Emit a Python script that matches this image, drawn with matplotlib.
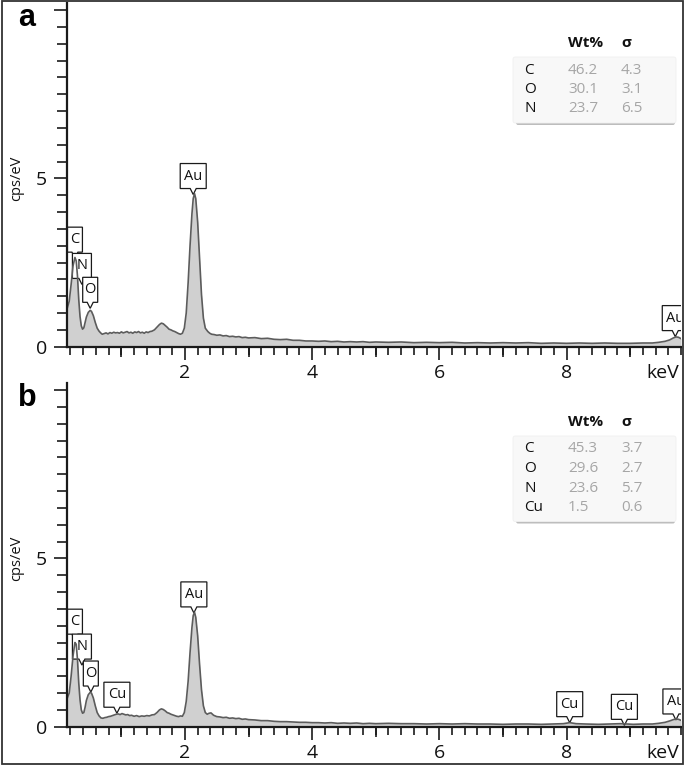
import matplotlib
matplotlib.use('Agg')
import matplotlib.pyplot as plt
from matplotlib.patches import Rectangle, PathPatch, FancyBboxPatch
from matplotlib.path import Path
from matplotlib import transforms
from matplotlib.ticker import MultipleLocator

plt.rcParams['font.family'] = ['Open Sans', 'DejaVu Sans']

# ---------------- data ----------------
energy_a = [0.15, 0.18, 0.21, 0.24, 0.27, 0.29, 0.31, 0.33, 0.35, 0.37, 0.39, 0.41, 0.43, 0.45,
            0.48, 0.51, 0.53, 0.56, 0.59, 0.62, 0.65, 0.68, 0.70, 0.73, 0.76, 0.79, 0.82, 0.85,
            0.88, 0.91, 0.94, 0.97, 1.00, 1.03, 1.06, 1.09, 1.12, 1.15, 1.18, 1.21, 1.24, 1.27,
            1.30, 1.33, 1.36, 1.39, 1.42, 1.45, 1.48, 1.52, 1.56, 1.60, 1.63, 1.66, 1.69, 1.72,
            1.75, 1.78, 1.81, 1.84, 1.87, 1.90, 1.93, 1.96, 1.99, 2.02, 2.05, 2.08, 2.11, 2.13,
            2.15, 2.17, 2.20, 2.23, 2.26, 2.29, 2.32, 2.36, 2.39, 2.42, 2.46, 2.50, 2.55, 2.60,
            2.65, 2.70, 2.75, 2.80, 2.85, 2.90, 2.95, 3.00, 3.10, 3.20, 3.30, 3.40, 3.50, 3.60,
            3.70, 3.80, 3.90, 4.00, 4.10, 4.20, 4.30, 4.40, 4.50, 4.60, 4.70, 4.80, 4.90, 5.00,
            5.20, 5.40, 5.60, 5.80, 6.00, 6.20, 6.40, 6.60, 6.80, 7.00, 7.20, 7.40, 7.60, 7.80,
            8.00, 8.20, 8.40, 8.60, 8.80, 9.00, 9.20, 9.35, 9.45, 9.55, 9.62, 9.68, 9.72, 9.76,
            9.80]
counts_a = [1.15, 1.35, 1.85, 2.40, 2.65, 2.55, 2.10, 1.40, 0.90, 0.62, 0.52, 0.56, 0.72, 0.88,
            1.02, 1.08, 1.05, 0.92, 0.72, 0.55, 0.46, 0.40, 0.37, 0.39, 0.41, 0.38, 0.42, 0.40,
            0.43, 0.41, 0.42, 0.40, 0.44, 0.41, 0.43, 0.45, 0.41, 0.43, 0.40, 0.44, 0.42, 0.45,
            0.41, 0.43, 0.40, 0.44, 0.42, 0.45, 0.46, 0.50, 0.58, 0.66, 0.70, 0.68, 0.63, 0.58,
            0.52, 0.50, 0.47, 0.45, 0.42, 0.39, 0.37, 0.40, 0.55, 1.00, 1.90, 3.00, 3.95, 4.40,
            4.55, 4.40, 3.70, 2.60, 1.55, 0.85, 0.55, 0.45, 0.40, 0.37, 0.36, 0.34, 0.35, 0.32,
            0.33, 0.30, 0.31, 0.29, 0.30, 0.27, 0.28, 0.26, 0.27, 0.24, 0.25, 0.22, 0.21, 0.22,
            0.19, 0.19, 0.17, 0.17, 0.16, 0.17, 0.15, 0.16, 0.14, 0.15, 0.14, 0.15, 0.13, 0.14,
            0.13, 0.14, 0.12, 0.13, 0.12, 0.13, 0.11, 0.12, 0.11, 0.12, 0.11, 0.12, 0.10, 0.11,
            0.10, 0.11, 0.10, 0.11, 0.10, 0.10, 0.11, 0.11, 0.13, 0.16, 0.20, 0.26, 0.29, 0.28,
            0.24]

energy_b = [0.15, 0.18, 0.21, 0.24, 0.27, 0.29, 0.31, 0.33, 0.35, 0.37, 0.39, 0.41, 0.43, 0.45,
            0.48, 0.51, 0.53, 0.56, 0.59, 0.62, 0.65, 0.68, 0.71, 0.74, 0.77, 0.80, 0.83, 0.86,
            0.89, 0.92, 0.95, 0.98, 1.01, 1.04, 1.07, 1.10, 1.13, 1.16, 1.20, 1.24, 1.28, 1.32,
            1.36, 1.40, 1.44, 1.48, 1.52, 1.56, 1.60, 1.63, 1.66, 1.69, 1.72, 1.75, 1.78, 1.81,
            1.84, 1.87, 1.90, 1.93, 1.96, 1.99, 2.02, 2.05, 2.08, 2.11, 2.13, 2.15, 2.17, 2.20,
            2.23, 2.26, 2.29, 2.32, 2.35, 2.38, 2.41, 2.45, 2.50, 2.55, 2.60, 2.65, 2.70, 2.75,
            2.80, 2.85, 2.90, 2.95, 3.00, 3.10, 3.20, 3.30, 3.40, 3.50, 3.60, 3.70, 3.80, 3.90,
            4.00, 4.10, 4.20, 4.30, 4.40, 4.50, 4.60, 4.70, 4.80, 4.90, 5.00, 5.20, 5.40, 5.60,
            5.80, 6.00, 6.20, 6.40, 6.60, 6.80, 7.00, 7.20, 7.40, 7.60, 7.80, 7.95, 8.05, 8.15,
            8.30, 8.50, 8.70, 8.85, 8.95, 9.05, 9.20, 9.35, 9.45, 9.55, 9.62, 9.68, 9.72, 9.76,
            9.80]
counts_b = [0.85, 1.00, 1.50, 2.10, 2.50, 2.45, 2.00, 1.30, 0.80, 0.50, 0.40, 0.42, 0.58, 0.78,
            0.95, 1.02, 1.00, 0.85, 0.62, 0.42, 0.32, 0.26, 0.25, 0.27, 0.28, 0.30, 0.31, 0.33,
            0.35, 0.37, 0.38, 0.36, 0.39, 0.37, 0.35, 0.36, 0.33, 0.34, 0.31, 0.33, 0.30, 0.32,
            0.31, 0.33, 0.32, 0.35, 0.36, 0.42, 0.50, 0.53, 0.51, 0.47, 0.42, 0.40, 0.37, 0.35,
            0.33, 0.31, 0.30, 0.32, 0.31, 0.42, 0.75, 1.35, 2.20, 2.95, 3.30, 3.40, 3.25, 2.70,
            1.85, 1.10, 0.62, 0.42, 0.37, 0.40, 0.41, 0.34, 0.30, 0.29, 0.27, 0.28, 0.25, 0.26,
            0.24, 0.25, 0.22, 0.23, 0.21, 0.20, 0.18, 0.18, 0.16, 0.15, 0.15, 0.14, 0.13, 0.13,
            0.12, 0.12, 0.11, 0.12, 0.10, 0.11, 0.10, 0.11, 0.09, 0.10, 0.09, 0.10, 0.09, 0.09,
            0.08, 0.09, 0.08, 0.09, 0.08, 0.08, 0.07, 0.08, 0.08, 0.07, 0.08, 0.09, 0.12, 0.09,
            0.08, 0.07, 0.08, 0.09, 0.08, 0.07, 0.08, 0.08, 0.10, 0.13, 0.17, 0.21, 0.23, 0.22,
            0.19]

peak_labels_a = ['C', 'N', 'O', 'Au', 'Au']
peak_x_a = [0.27, 0.38, 0.51, 2.13, 9.71]
peak_y_a = [2.63, 1.85, 1.14, 4.52, 0.30]

peak_labels_b = ['C', 'N', 'O', 'Cu', 'Au', 'Cu', 'Cu', 'Au']
peak_x_b = [0.27, 0.38, 0.52, 0.93, 2.14, 8.05, 8.91, 9.72]
peak_y_b = [2.57, 1.83, 1.03, 0.40, 3.38, 0.12, 0.04, 0.20]

table_elem_a = ['C', 'O', 'N']
table_wt_a = ['46.2', '30.1', '23.7']
table_sig_a = ['4.3', '3.1', '6.5']

table_elem_b = ['C', 'O', 'N', 'Cu']
table_wt_b = ['45.3', '29.6', '23.6', '1.5']
table_sig_b = ['3.7', '2.7', '5.7', '0.6']

x_tick_vals = [2, 4, 6, 8]
x_tick_labels = ['2', '4', '6', '8']
y_tick_vals = [0, 5, 10]
y_tick_labels = ['0', '5', '']

# ---------------- figure ----------------
W, H = 685, 768
fig = plt.figure(figsize=(W / 100, H / 100), dpi=100)


def fx(x):
    return x / W


def fy(y):
    return 1 - y / H


PX = 72 / 100  # points per pixel


def callout(ax, x, y, label):
    w = 4 + 11 * len(label)
    if label == 'N':
        w = 19
    hw = w / 2
    verts = [(-3, 6), (0, 0), (3, 6), (hw, 6), (hw, 31), (-hw, 31), (-hw, 6), (-3, 6)]
    codes = [Path.MOVETO] + [Path.LINETO] * 6 + [Path.CLOSEPOLY]
    s = fig.dpi / 100
    trans = transforms.Affine2D().scale(s) + transforms.ScaledTranslation(x, y, ax.transData)
    p = PathPatch(Path(verts, codes), fc='white', ec='#1a1a1a', lw=0.9,
                  transform=trans, zorder=2.5)
    ax.add_patch(p)
    p.set_clip_path(ax.patch)
    t = ax.annotate(label, xy=(x, y), xytext=(0, 18.5 * PX), textcoords='offset points',
                    ha='center', va='center', fontsize=10.5, color='#111111', zorder=6,
                    annotation_clip=False)
    t.set_clip_path(ax.patch)


def panel(bottom_px, energy, counts, labels, lx, ly, letter, elems, wts, sigs, table_top):
    ax = fig.add_axes([67.3 / W, (H - bottom_px) / H, 613.7 / W, 343.4 / H])
    ax.fill_between(energy, counts, 0, color='#d0d0d0', lw=0, zorder=2)
    ax.plot(energy, counts, color='#5c5c5c', lw=1.2, zorder=3)
    ax.set_xlim(0.15, 9.8)
    ax.set_ylim(0, 10.2)
    for s in ['top', 'right']:
        ax.spines[s].set_visible(False)
    for s in ['left', 'bottom']:
        ax.spines[s].set_linewidth(1.6)
        ax.spines[s].set_color('#1a1a1a')
        ax.spines[s].set_zorder(4)
    ax.set_xticks(x_tick_vals)
    ax.set_xticklabels(x_tick_labels)
    ax.xaxis.set_minor_locator(MultipleLocator(0.2))
    ax.set_yticks(y_tick_vals)
    ax.set_yticklabels(y_tick_labels)
    ax.yaxis.set_minor_locator(MultipleLocator(0.5))
    ax.tick_params(axis='both', which='both', direction='out', width=1.2, color='#1a1a1a',
                   labelsize=14, labelcolor='#111111')
    ax.tick_params(axis='x', which='major', length=9.4, pad=3)
    ax.tick_params(axis='x', which='minor', length=5.8)
    ax.tick_params(axis='y', which='major', length=9.4, pad=5)
    ax.tick_params(axis='y', which='minor', length=7.2)
    sec = ax.secondary_xaxis('bottom')
    sec.set_xticks([1, 3, 5, 7, 9])
    sec.tick_params(length=7.2, width=1.2, color='#1a1a1a', labelbottom=False)
    sec.spines['bottom'].set_visible(False)
    ax.annotate('keV', xy=(1, 0), xycoords='axes fraction', xytext=(-1, -(9.4 + 3)),
                textcoords='offset points', ha='right', va='top', fontsize=14, color='#111111')
    for lab, x, y in zip(labels, lx, ly):
        callout(ax, x, y, lab)
    # letter and ylabel
    fig.text(fx(27), fy(bottom_px - 329), letter, fontsize=22, fontweight='bold',
             family='Liberation Sans', ha='center', va='center')
    fig.text(fx(17), fy(bottom_px - 168), 'cps/eV', rotation=90, fontsize=10.5,
             ha='center', va='center', color='#111111')
    # table
    n = len(elems)
    row_h = 19.5
    box_top = table_top + 14
    box_bot = table_top + 27 + row_h * (n - 1) + 14
    shadow = FancyBboxPatch((fx(516), fy(box_bot + 2)), (677 - 518) / W, 6 / H,
                            boxstyle='round,pad=0,rounding_size=0.003', transform=fig.transFigure,
                            fc='#bdbdbd', ec='none', zorder=1)
    box = FancyBboxPatch((fx(513), fy(box_bot)), (676 - 513) / W, (box_bot - box_top) / H,
                         boxstyle='round,pad=0,rounding_size=0.003', transform=fig.transFigure,
                         fc='#f8f8f8', ec='#f0f0f0', lw=0.6, zorder=1.1)
    fig.add_artist(shadow)
    fig.add_artist(box)
    fig.text(fx(568), fy(table_top), 'Wt%', fontsize=11, fontweight='bold', ha='left',
             va='center', color='#111111')
    fig.text(fx(621), fy(table_top), 'σ', fontsize=11, fontweight='bold', ha='left',
             va='center', color='#111111')
    for i, (e, wv, sv) in enumerate(zip(elems, wts, sigs)):
        yy = table_top + 27 + row_h * i
        fig.text(fx(524), fy(yy), e, fontsize=11, ha='left', va='center', color='#111111')
        fig.text(fx(568), fy(yy), wv, fontsize=11, ha='left', va='center', color='#a6a6a6')
        fig.text(fx(621), fy(yy), sv, fontsize=11, ha='left', va='center', color='#a6a6a6')
    return ax


panel(346.7, energy_a, counts_a, peak_labels_a, peak_x_a, peak_y_a, 'a',
      table_elem_a, table_wt_a, table_sig_a, 43)
panel(726.7, energy_b, counts_b, peak_labels_b, peak_x_b, peak_y_b, 'b',
      table_elem_b, table_wt_b, table_sig_b, 422)

# outer frame
fig.add_artist(Rectangle((fx(1.5), fy(763.5)), 681 / W, 762.5 / H, fill=False,
                         ec='#333333', lw=1.3, transform=fig.transFigure, zorder=10))

fig.savefig('out.png', dpi=100)
